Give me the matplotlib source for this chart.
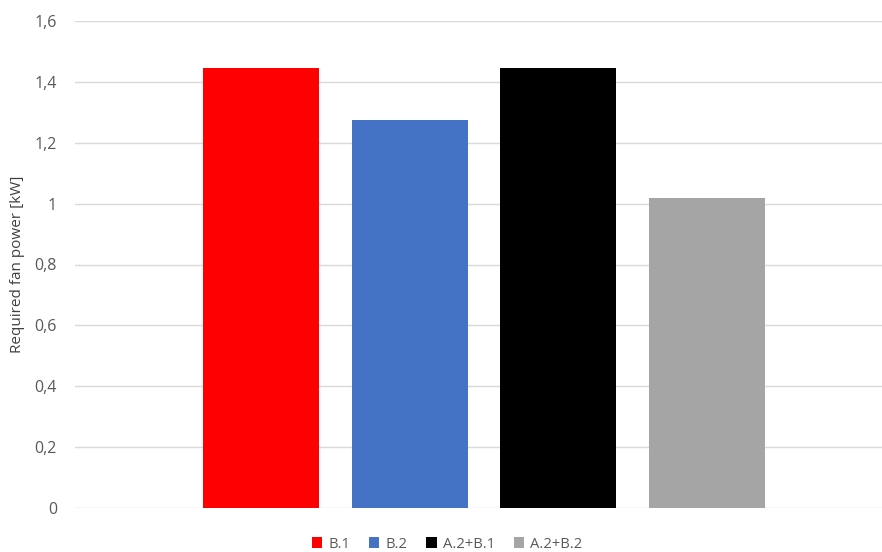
import matplotlib
matplotlib.use("Agg")
import matplotlib.pyplot as plt
from matplotlib.ticker import FuncFormatter, MultipleLocator
from matplotlib.patches import Patch

# Required fan power per configuration
configs = ["B.1", "B.2", "A.2+B.1", "A.2+B.2"]
power_kw = [1.447, 1.274, 1.447, 1.017]
colors = ["#ff0000", "#4472c4", "#000000", "#a5a5a5"]

plt.rcParams["font.family"] = ["Open Sans", "DejaVu Sans"]

fig = plt.figure(figsize=(8.82, 5.52), dpi=100)
ax = fig.add_axes([75 / 882, 1 - 508 / 552, 1 - 75 / 882, (508 - 21) / 552])

x = list(range(len(configs)))
ax.bar(x, power_kw, width=0.78, color=colors, zorder=3)

ax.set_xlim(-1.255, 4.18)
ax.set_ylim(0, 1.6)
ax.yaxis.set_major_locator(MultipleLocator(0.2))
ax.yaxis.set_major_formatter(
    FuncFormatter(lambda v, _: (f"{v:.1f}".rstrip("0").rstrip(".")).replace(".", ","))
)
ax.grid(axis="y", color="#d9d9d9", linewidth=1, zorder=0)
ax.set_xticks([])
for s in ax.spines.values():
    s.set_visible(False)
ax.tick_params(axis="y", length=0, pad=13, labelsize=11.5, labelcolor="#595959")
ax.set_ylabel("Required fan power [kW]", fontsize=11, color="#404040", labelpad=7)

handles = [Patch(facecolor=c, edgecolor="none") for c in colors]
fig.legend(handles, configs, loc="center", bbox_to_anchor=(447 / 882, 1 - 544 / 552),
           ncol=4, frameon=False, fontsize=10.6, handlelength=0.7, handleheight=0.7,
           handletextpad=0.4, columnspacing=1.3, labelcolor="#595959")

fig.savefig("out.png", dpi=100)
